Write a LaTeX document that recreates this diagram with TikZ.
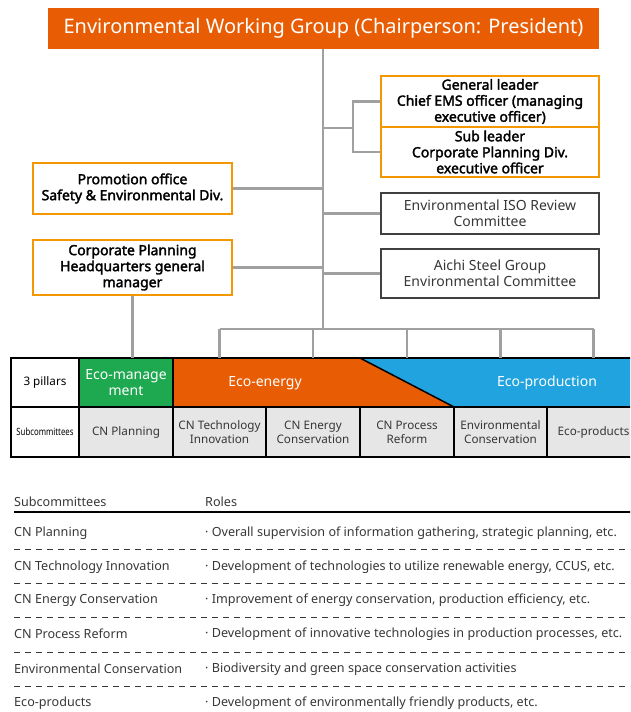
\documentclass[tikz,border=0pt]{standalone}
\usepackage{fontspec}
\setmainfont{Noto Sans}[AutoFakeBold=2.2]
\definecolor{ttlorange}{RGB}{232,93,4}
\definecolor{boxorange}{RGB}{243,152,0}
\definecolor{ecogreen}{RGB}{30,168,80}
\definecolor{ecoblue}{RGB}{32,163,222}
\definecolor{cellgray}{RGB}{230,230,230}
\definecolor{linegray}{RGB}{160,160,160}
\definecolor{txtgray}{RGB}{55,55,55}
\begin{document}
\begin{tikzpicture}[x=1pt,y=-1pt,
 conn/.style={draw=linegray, line width=2.5pt},
 obox/.style={draw=boxorange, line width=2pt, fill=white, align=center, font=\fontsize{14}{16}\selectfont\bfseries, inner sep=0pt},
 gbox/.style={draw=black!75, line width=1.2pt, fill=white, align=center, text=txtgray, font=\fontsize{14}{16}\selectfont, inner sep=0pt},
 cell/.style={draw=black, line width=1.5pt, fill=cellgray, align=center, text=txtgray, font=\fontsize{11.7}{14}\selectfont, inner sep=0pt},
 pillar/.style={text=white, align=center, font=\fontsize{14}{16}\selectfont, inner sep=0pt},
 rowtxt/.style={anchor=west, text=txtgray, font=\fontsize{12.6}{15}\selectfont, inner sep=0pt},
 sepline/.style={draw=txtgray, line width=0.9pt, dash pattern=on 6pt off 5pt},
]
\useasboundingbox (0,0) rectangle (630,712);
\clip (0,0) rectangle (630,712);

% title
\node[fill=ttlorange, text=white, minimum width=551pt, minimum height=41pt, inner sep=0pt,
      font=\fontsize{20}{24}\selectfont] (title) at (323.5,28.5) {Environmental Working Group (Chairperson: President)};

% right boxes
\node[obox, minimum width=218pt, minimum height=51pt] (gl) at (490,101.5) {General leader\\Chief EMS officer (managing\\executive officer)};
\node[obox, minimum width=218pt, minimum height=50pt] (sl) at (490,152) {Sub leader\\Corporate Planning Div.\\executive officer};
\node[gbox, minimum width=218pt, minimum height=41pt] (iso) at (490,213.5) {Environmental ISO Review\\Committee};
\node[gbox, minimum width=218pt, minimum height=49pt] (aichi) at (490,273.5) {Aichi Steel Group\\Environmental Committee};

% left boxes
\node[obox, minimum width=199pt, minimum height=51pt] (po) at (132.5,188.5) {Promotion office\\Safety \& Environmental Div.};
\node[obox, minimum width=199pt, minimum height=55pt] (hq) at (132.5,267.5) {Corporate Planning\\Headquarters general\\manager};

% coordinates
\coordinate (trunk) at (323,329);
\coordinate (brk) at (353,128);
\coordinate (rtop) at (0,358);

% table row 1 fills
\fill[ttlorange] (173,358) -- (360,358) -- (454,407) -- (173,407) -- cycle;
\fill[ecoblue] (360,358) -- (640,358) -- (640,407) -- (454,407) -- cycle;
\draw[line width=1.5pt] (360,358) -- (454,407);
\node[cell, fill=white, minimum width=68pt, minimum height=49pt, text=black] (pil) at (45,382.5) {3 pillars};
\node[draw=black, line width=1.5pt, fill=ecogreen, minimum width=94pt, minimum height=49pt, pillar] (emg) at (126,382.5) {Eco-manage\\ment};
\node[pillar] (een) at (265,383) {Eco-energy};
\node[pillar] (epr) at (547,383) {Eco-production};
\draw[line width=1.5pt] (11,358) -- (640,358);

% table row 2
\node[cell, fill=white, minimum width=68pt, minimum height=50pt, text=black, font=\fontsize{10}{12}\selectfont] (subc) at (45,432) {\scalebox{0.78}[1]{Subcommittees}};
\node[cell, minimum width=94pt, minimum height=50pt] (cnp) at (126,432) {CN Planning};
\node[cell, minimum width=93pt, minimum height=50pt] (cti) at (219.5,432) {CN Technology\\Innovation};
\node[cell, minimum width=94pt, minimum height=50pt] (cec) at (313,432) {CN Energy\\Conservation};
\node[cell, minimum width=94pt, minimum height=50pt] (cpr) at (407,432) {CN Process\\Reform};
\node[cell, minimum width=93pt, minimum height=50pt] (ecn) at (500.5,432) {Environmental\\Conservation};
\node[cell, minimum width=93pt, minimum height=50pt] (epd) at (593.5,432) {Eco-products};

% connectors
\draw[conn] (title.south -| trunk) -- (trunk);
\draw[conn] (gl.west) -| (brk) |- (sl.west);
\draw[conn] (brk) -- (brk -| trunk);
\draw[conn] (po.east) -- (po.east -| trunk);
\draw[conn] (iso.west) -- (iso.west -| trunk);
\draw[conn] (hq.east) -- (hq.east -| trunk);
\draw[conn] (aichi.west) -- (aichi.west -| trunk);
\draw[conn] (hq.south) -- (hq.south |- rtop);
\draw[conn] (cti |- trunk) -- (epd |- trunk);
\foreach \c in {cti,cec,cpr,ecn,epd} {
  \draw[conn] (\c |- trunk) -- (\c |- rtop);
}

% roles table
\node[rowtxt] (h1) at (14,502) {Subcommittees};
\node[rowtxt] (h2) at (205,502) {Roles};
\draw[line width=1.2pt] (14,512) -- (640,512);
\node[rowtxt] (r1a) at (14,533) {CN Planning};
\node[rowtxt] (r1b) at (205,533) {· Overall supervision of information gathering, strategic planning, etc.};
\draw[sepline] (14,549) -- (640,549);
\node[rowtxt] (r2a) at (14,567) {CN Technology Innovation};
\node[rowtxt] (r2b) at (205,567) {· Development of technologies to utilize renewable energy, CCUS, etc.};
\draw[sepline] (14,583) -- (640,583);
\node[rowtxt] (r3a) at (14,600) {CN Energy Conservation};
\node[rowtxt] (r3b) at (205,600) {· Improvement of energy conservation, production efficiency, etc.};
\draw[sepline] (14,617) -- (640,617);
\node[rowtxt] (r4a) at (14,634) {CN Process Reform};
\node[rowtxt] (r4b) at (205,634) {· Development of innovative technologies in production processes, etc.};
\draw[sepline] (14,652) -- (640,652);
\node[rowtxt] (r5a) at (14,669) {Environmental Conservation};
\node[rowtxt] (r5b) at (205,669) {· Biodiversity and green space conservation activities};
\draw[sepline] (14,686) -- (640,686);
\node[rowtxt] (r6a) at (14,703) {Eco-products};
\node[rowtxt] (r6b) at (205,703) {· Development of environmentally friendly products, etc.};
\end{tikzpicture}
\end{document}
